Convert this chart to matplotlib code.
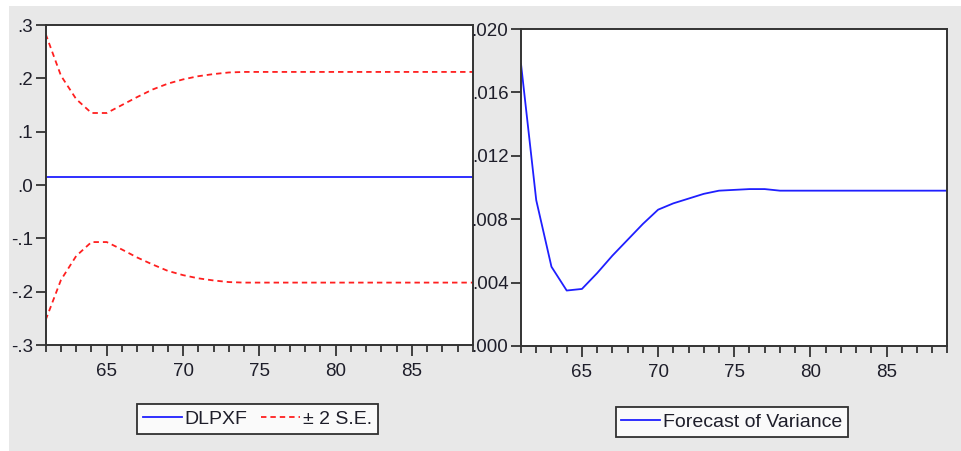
import matplotlib
matplotlib.use("Agg")
import matplotlib.pyplot as plt
import numpy as np
from matplotlib.patches import Rectangle
from matplotlib.ticker import FixedLocator, MultipleLocator, FuncFormatter

plt.rcParams['font.family'] = ['Liberation Sans', 'DejaVu Sans']

# forecast periods
periods = list(range(61, 90))

# DLPXF forecast and the +/- 2 S.E. band
dlpxf = [0.015] * 29
upper_se = [0.283, 0.205, 0.161, 0.135, 0.135, 0.150, 0.165, 0.179, 0.190,
            0.198, 0.204, 0.208, 0.211] + [0.212] * 16
lower_se = [-0.253, -0.178, -0.133, -0.107, -0.107, -0.121, -0.136, -0.149,
            -0.161, -0.169, -0.175, -0.179, -0.182] + [-0.183] * 16

# forecast of variance
variance = [0.0178, 0.0092, 0.0050, 0.0035, 0.0036, 0.0046, 0.0057, 0.0067,
            0.0077, 0.0086, 0.0090, 0.0093, 0.0096, 0.0098, 0.00985, 0.0099,
            0.0099] + [0.0098] * 12

left_ticks = [-0.3, -0.2, -0.1, 0.0, 0.1, 0.2, 0.3]
right_ticks = [0.0, 0.004, 0.008, 0.012, 0.016, 0.020]
x_major = [65, 70, 75, 80, 85]

BG = "#e8e8e8"
SPINE = "#333333"
TXT = "#1e1e2a"


def dot_fmt(decimals):
    def f(v, pos):
        s = f"{v:.{decimals}f}"
        if s.startswith("-0"):
            s = "-" + s[2:]
        elif s.startswith("0"):
            s = s[1:]
        return s
    return FuncFormatter(f)


def style_axes(ax):
    for sp in ax.spines.values():
        sp.set_color(SPINE)
        sp.set_linewidth(1.4)
    ax.set_xlim(61, 89)
    ax.xaxis.set_major_locator(FixedLocator(x_major))
    ax.xaxis.set_minor_locator(MultipleLocator(1))
    ax.tick_params(axis="x", which="major", length=8, width=1.3, color=SPINE,
                   labelsize=13.5, labelcolor=TXT, pad=5, direction="out")
    ax.tick_params(axis="x", which="minor", length=5, width=1.3, color=SPINE,
                   direction="out")
    ax.tick_params(axis="y", which="major", length=7, width=1.3, color=SPINE,
                   labelsize=13.5, labelcolor=TXT, pad=2, direction="out")
    ax.tick_params(top=False, right=False, which="both")


fig = plt.figure(figsize=(9.62, 4.51), dpi=100, facecolor="white")
fig.patches.append(Rectangle((9 / 962, 0), 1, 1 - 6 / 451, transform=fig.transFigure,
                             facecolor=BG, edgecolor="none", zorder=-10))

ax1 = fig.add_axes([45.7 / 962, 1 - 345 / 451, (473 - 45.7) / 962, 320 / 451])
ax2 = fig.add_axes([521 / 962, 1 - 346 / 451, (947.5 - 521) / 962, 317 / 451])

ax1.plot(periods, dlpxf, color="#1f1fff", lw=1.3, label="DLPXF")
ax1.plot(periods, upper_se, color="#ff1f1f", lw=1.3, ls=(0, (3, 2.2)), label="± 2 S.E.")
ax1.plot(periods, lower_se, color="#ff1f1f", lw=1.3, ls=(0, (3, 2.2)))
ax1.set_ylim(-0.3, 0.3)
ax1.yaxis.set_major_locator(FixedLocator(left_ticks))
ax1.yaxis.set_major_formatter(dot_fmt(1))
style_axes(ax1)

ax2.plot(periods, variance, color="#1f1fff", lw=1.3, label="Forecast of Variance")
ax2.set_ylim(0, 0.020)
ax2.yaxis.set_major_locator(FixedLocator(right_ticks))
ax2.yaxis.set_major_formatter(dot_fmt(3))
style_axes(ax2)

leg_kw = dict(frameon=True, fancybox=False, edgecolor="black", fontsize=14,
              handlelength=2.0, handletextpad=0.15, borderpad=0.3,
              borderaxespad=0, labelcolor=TXT)
l1 = ax1.legend(loc="center", bbox_to_anchor=(257.5 / 962, 1 - 419 / 451),
                bbox_transform=fig.transFigure, ncol=2, columnspacing=0.7, **leg_kw)
l2 = ax2.legend(loc="center", bbox_to_anchor=(732 / 962, 1 - 422 / 451),
                bbox_transform=fig.transFigure, **leg_kw)
for lg in (l1, l2):
    lg.get_frame().set_linewidth(1.3)

fig.savefig("out.png", dpi=100, facecolor=fig.get_facecolor())
